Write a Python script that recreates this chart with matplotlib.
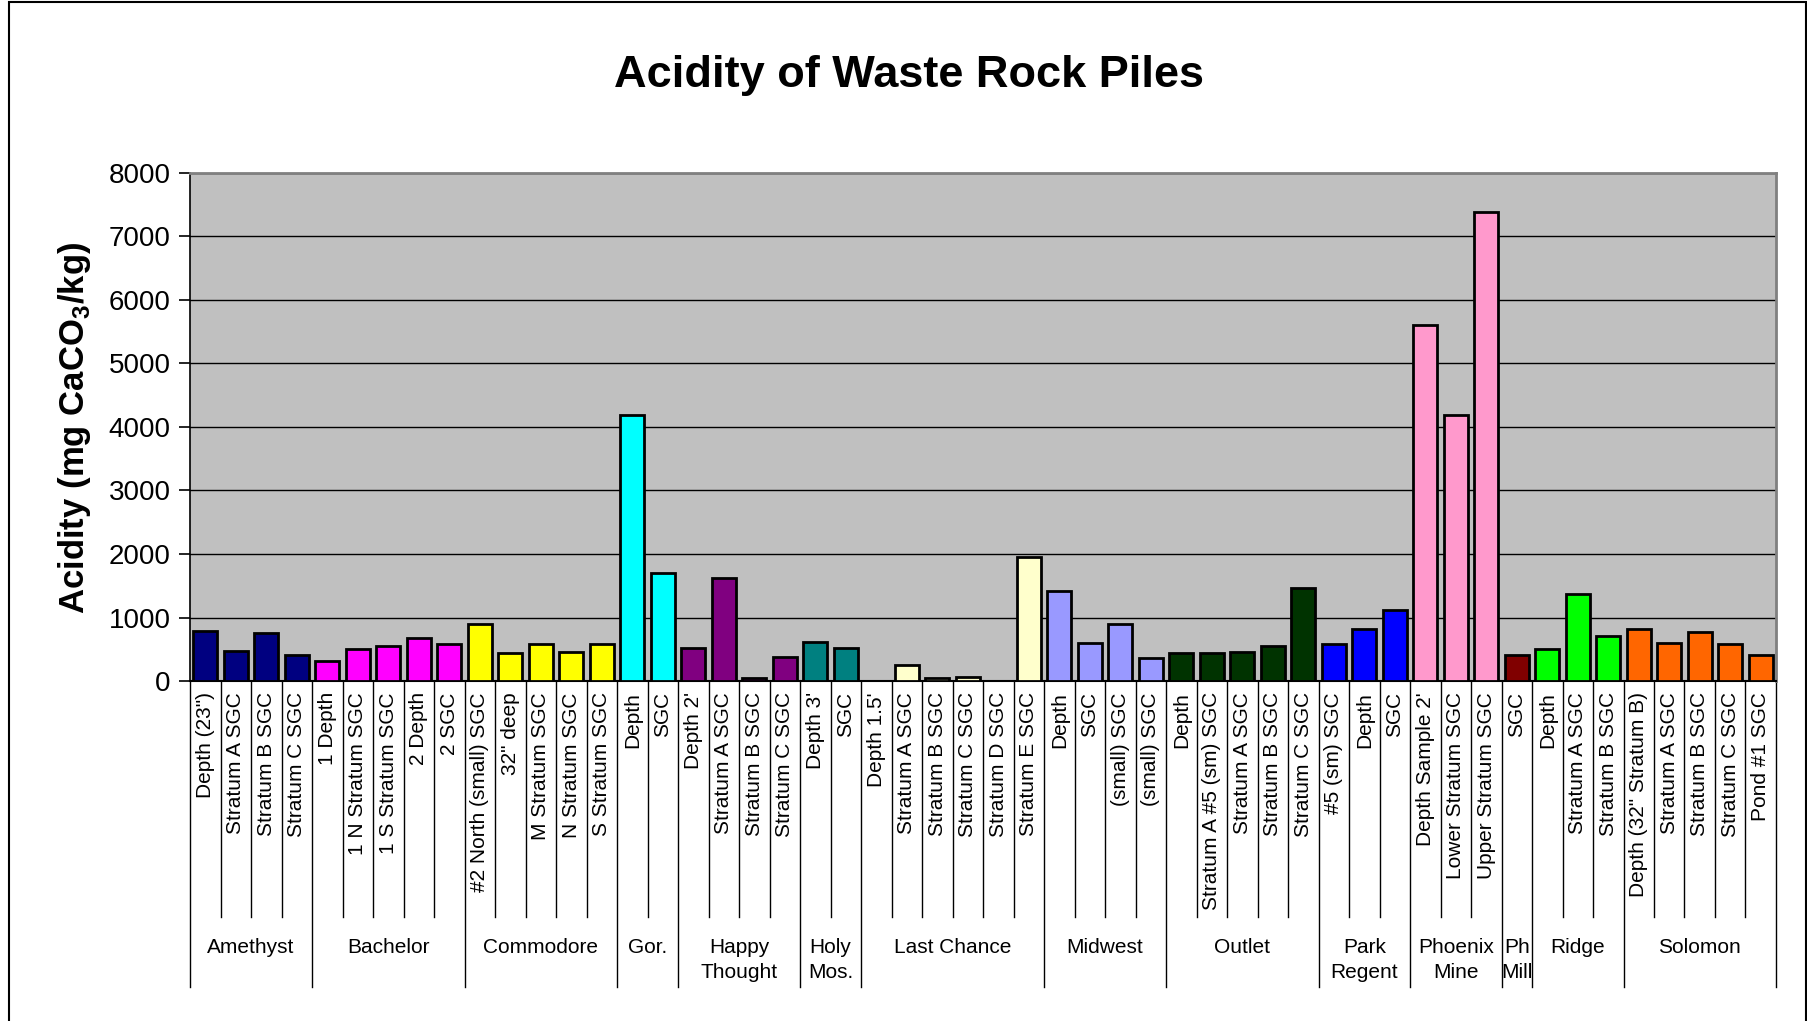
import numpy as np
import matplotlib
matplotlib.use("Agg")
import matplotlib.pyplot as plt
from matplotlib.patches import Rectangle

plt.rcParams['font.family'] = ['Liberation Sans', 'DejaVu Sans']
plt.rcParams['mathtext.fontset'] = 'custom'
plt.rcParams['mathtext.rm'] = 'Liberation Sans'
plt.rcParams['mathtext.bf'] = 'Liberation Sans:bold'

# mine sites (outer category level)
groups = ["Amethyst", "Bachelor", "Commodore", "Gor.", "Happy\nThought", "Holy\nMos.",
          "Last Chance", "Midwest", "Outlet", "Park\nRegent", "Phoenix\nMine", "Ph\nMill",
          "Ridge", "Solomon"]
group_sizes = [4, 5, 5, 2, 4, 2, 6, 4, 5, 3, 3, 1, 3, 5]
group_colors = ["#000080", "#FF00FF", "#FFFF00", "#00FFFF", "#800080", "#008080",
                "#FFFFCC", "#9999FF", "#003300", "#0000FF", "#FF99CC", "#800000",
                "#00FF00", "#FF6600"]

# samples (inner category level)
sample_labels = [
    'Depth (23")', "Stratum A SGC", "Stratum B SGC", "Stratum C SGC",
    "1 Depth", "1 N Stratum SGC", "1 S Stratum SGC", "2 Depth", "2 SGC",
    "#2 North (small) SGC", '32" deep', "M Stratum SGC", "N Stratum SGC", "S Stratum SGC",
    "Depth", "SGC",
    "Depth 2'", "Stratum A SGC", "Stratum B SGC", "Stratum C SGC",
    "Depth 3'", "SGC",
    "Depth 1.5'", "Stratum A SGC", "Stratum B SGC", "Stratum C SGC", "Stratum D SGC", "Stratum E SGC",
    "Depth", "SGC", "(small) SGC", "(small) SGC",
    "Depth", "Stratum A #5 (sm) SGC", "Stratum A SGC", "Stratum B SGC", "Stratum C SGC",
    "#5 (sm) SGC", "Depth", "SGC",
    "Depth Sample 2'", "Lower Stratum SGC", "Upper Stratum SGC",
    "SGC",
    "Depth", "Stratum A SGC", "Stratum B SGC",
    'Depth (32" Stratum B)', "Stratum A SGC", "Stratum B SGC", "Stratum C SGC", "Pond #1 SGC",
]

# acidity, mg CaCO3/kg
acidity = [
    790, 480, 760, 415,
    310, 510, 550, 685, 585,
    900, 435, 590, 450, 580,
    4190, 1700,
    520, 1620, 55, 375,
    610, 520,
    0, 255, 55, 60, 0, 1950,
    1415, 600, 895, 365,
    440, 440, 455, 545, 1470,
    585, 815, 1120,
    5610, 4190, 7390,
    415,
    510, 1365, 705,
    825, 600, 770, 585, 415,
]


def main():
    fig = plt.figure(figsize=(18.08, 10.21), dpi=100)
    ax = fig.add_axes([0.1051, 0.333, 0.8772, 0.4976])

    x = np.arange(len(acidity))
    bar_colors = [c for c, n in zip(group_colors, group_sizes) for _ in range(n)]
    ax.bar(x, acidity, width=0.78, color=bar_colors, edgecolor="black", linewidth=2, zorder=3)

    ax.set_xlim(-0.5, len(acidity) - 0.5)
    ax.set_ylim(0, 8000)
    ax.set_yticks(range(0, 8001, 1000))
    ax.set_xticks([])
    ax.set_facecolor("#C0C0C0")
    ax.yaxis.grid(True, color="black", linewidth=1)
    ax.set_axisbelow(True)
    ax.tick_params(axis="y", labelsize=20, length=8, width=1.2, pad=6)
    for side in ["top", "right"]:
        ax.spines[side].set_color("#808080")
        ax.spines[side].set_linewidth(2)
    ax.spines["left"].set_linewidth(1.2)
    ax.spines["bottom"].set_linewidth(1.5)

    trans = ax.get_xaxis_transform()

    # inner labels
    for i, lab in enumerate(sample_labels):
        ax.text(i, -0.022, lab, rotation=90, ha="center", va="top", fontsize=15,
                transform=trans, clip_on=False)

    # separators between categories, longer ones between groups
    group_bounds = set((np.cumsum([0] + group_sizes) - 0.5).tolist())
    for b in np.arange(len(acidity) + 1) - 0.5:
        bottom = -0.602 if b in group_bounds else -0.4646
        ax.plot([b, b], [0, bottom], color="black", lw=1, transform=trans, clip_on=False)

    # outer labels
    start = 0
    for name, n in zip(groups, group_sizes):
        center = start + (n - 1) / 2
        ax.text(center, -0.505, name, ha="center", va="top", fontsize=15,
                transform=trans, clip_on=False, linespacing=1.45)
        start += n

    fig.text(0.5026, 1 - 75 / 1021, "Acidity of Waste Rock Piles", ha="center", va="center",
             fontsize=32.5, fontweight="bold")
    fig.text(0.041, 0.581, r"Acidity (mg CaCO$_\mathbf{3}$/kg)", rotation=90,
             ha="center", va="center", fontsize=25, fontweight="bold")

    # outer chart border
    fig.add_artist(Rectangle((9 / 1808, -0.1), 1797 / 1808, 1.1 - 2 / 1021,
                             transform=fig.transFigure, fill=False, edgecolor="black",
                             linewidth=1.5))

    fig.savefig("out.png", dpi=100)
    plt.close(fig)


if __name__ == "__main__":
    main()
